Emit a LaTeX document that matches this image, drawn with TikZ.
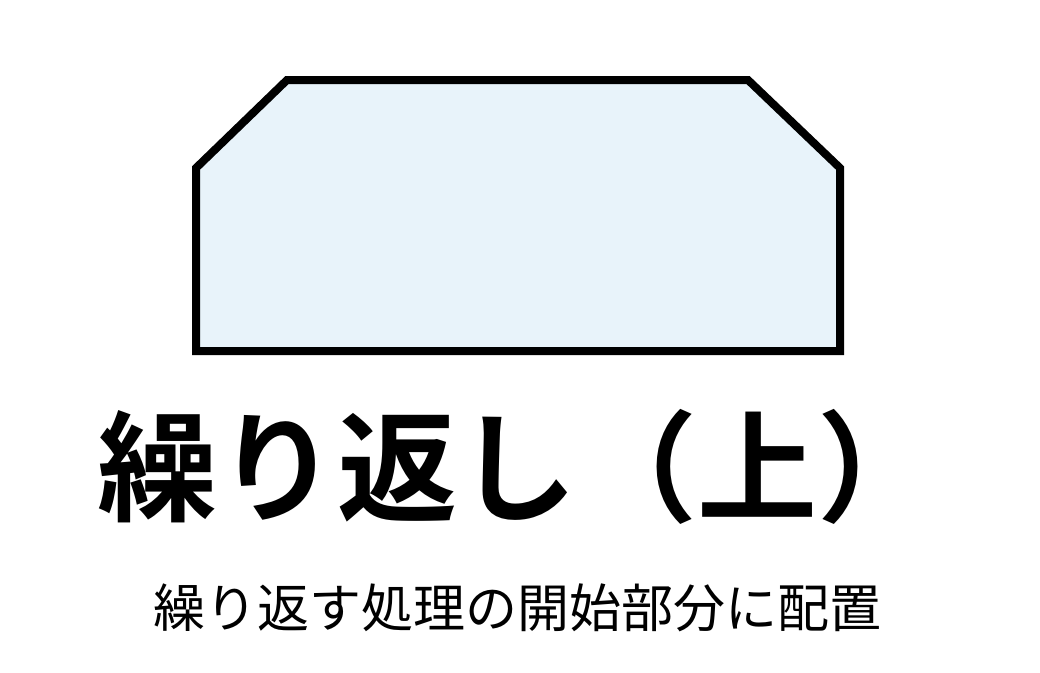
\documentclass[tikz,border=0pt]{standalone}
\usepackage{fontspec}
\newfontfamily\cjk{Noto Sans CJK JP}
\newfontfamily\cjkb{Noto Sans CJK JP Bold}
\definecolor{boxfill}{HTML}{E8F3FA}
\begin{document}
\begin{tikzpicture}[x=1pt,y=-1pt,
  loopshape/.style={draw=black,fill=boxfill,line width=8pt,line join=miter},
  titletext/.style={font=\cjkb\fontsize{120}{120}\selectfont,inner sep=0pt,anchor=west},
  subtext/.style={font=\cjk\fontsize{52}{52}\selectfont,inner sep=0pt,anchor=west}]
\useasboundingbox (0,0) rectangle (1040,672);
\draw[loopshape] (196,351) -- (196,168) -- (287,80) -- (748,80) -- (840,168) -- (840,351) -- cycle;
\node[titletext] (title) at (97,467) {繰り返し（上）};
\node[subtext] (sub) at (153,608) {繰り返す処理の開始部分に配置};
\end{tikzpicture}
\end{document}
